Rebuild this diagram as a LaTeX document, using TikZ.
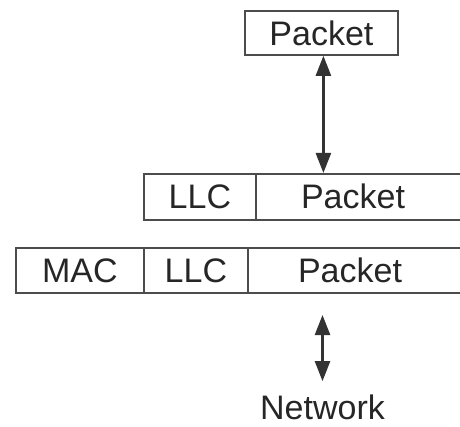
\documentclass[tikz,border=0pt]{standalone}
\usepackage{fontspec}
\setmainfont{Liberation Sans}
\usetikzlibrary{arrows.meta}
\definecolor{ln}{gray}{0.3}
\definecolor{tx}{gray}{0.15}
\tikzset{
  bigtip/.tip={Triangle[length=20pt,width=15pt]},
  cell/.style={draw=ln, line width=1.8pt, inner sep=0pt, anchor=north west,
    font=\fontsize{34}{40}\selectfont, text=tx},
  lab/.style={font=\fontsize{34}{40}\selectfont, text=tx, inner sep=0pt},
  arr/.style={draw=black!80, line width=2.4pt, bigtip-bigtip}}
\begin{document}
\begin{tikzpicture}[x=1pt,y=-1pt]
\useasboundingbox (0,0) rectangle (460,427);
\clip (0,0) rectangle (460,427);
% top packet
\node[cell, minimum width=153pt, minimum height=44pt] (top) at (244,10) {Packet};
% LLC row
\node[cell, minimum width=112pt, minimum height=46pt] (llc1) at (143,173) {LLC};
\node[cell, minimum width=215pt, minimum height=46pt] (pk1) at (255,173) {};
\node[lab] (pk1t) at (353,196) {Packet};
% MAC row
\node[cell, minimum width=128pt, minimum height=45pt] (mac) at (15,247) {MAC};
\node[cell, minimum width=104pt, minimum height=45pt] (llc2) at (143,247) {LLC};
\node[cell, minimum width=223pt, minimum height=45pt] (pk2) at (247,247) {};
\node[lab] (pk2t) at (350,270) {Packet};
% network
\node[lab, anchor=base] (net) at (322.5,419) {Network};
\coordinate (na) at (322.5,315);
% arrows
\draw[arr] ([xshift=2pt]top.south) -- ([xshift=2pt]top.south |- pk1.north);
\draw[arr, shorten >=13pt] (na) -- (net.north);
\end{tikzpicture}
\end{document}
